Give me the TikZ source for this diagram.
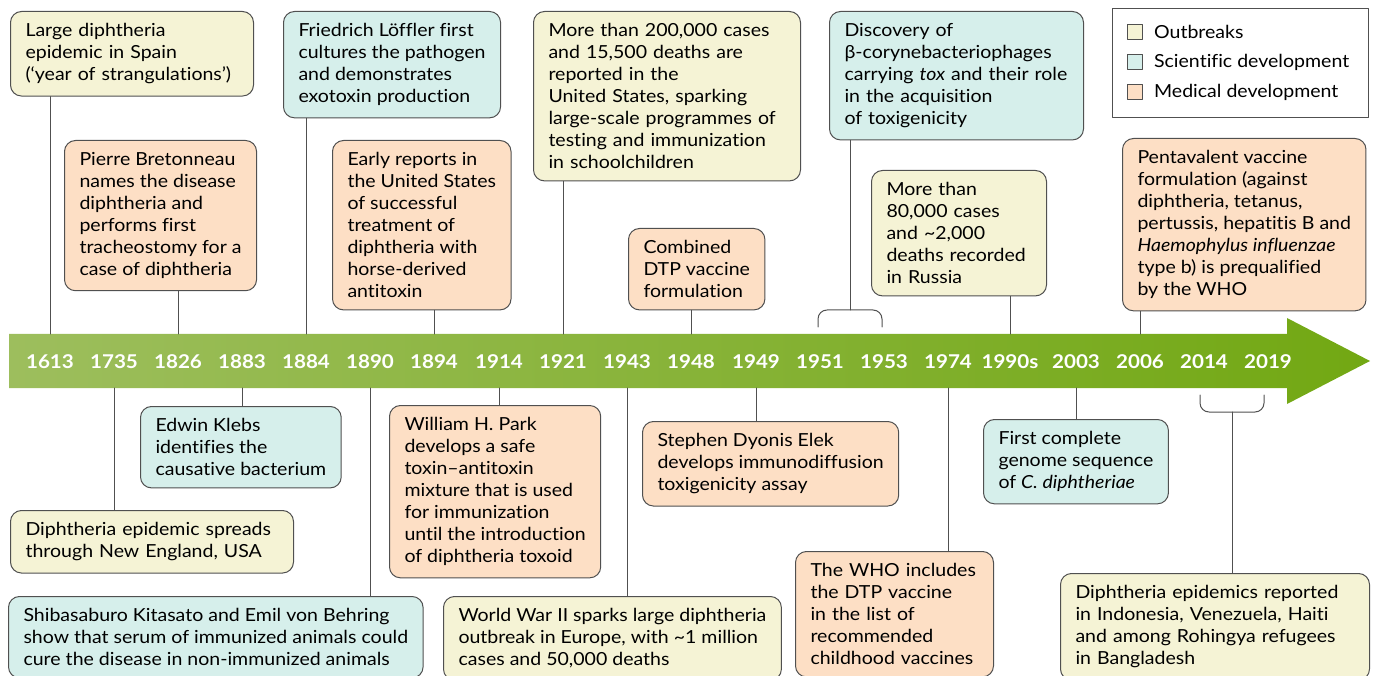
\documentclass[tikz,border=0pt]{standalone}
\usepackage{fontspec}
\setmainfont{Lato}[FakeStretch=1.085,Ligatures={TeX,NoCommon}]
\usetikzlibrary{positioning}

\definecolor{outbk}{HTML}{F5F3D5}
\definecolor{scidev}{HTML}{D6EFEB}
\definecolor{meddev}{HTML}{FDDFC5}
\definecolor{edge}{HTML}{505050}
\definecolor{barL}{HTML}{9DBE5D}
\definecolor{barR}{HTML}{72A813}

\tikzset{
  event/.style={draw=edge,line width=1pt,rounded corners=11pt,anchor=north west,
    align=left,inner xsep=15pt,inner ysep=12pt,font=\fontsize{18}{22}\selectfont},
  outbreak/.style={event,fill=outbk},
  science/.style={event,fill=scidev},
  medical/.style={event,fill=meddev},
  stem/.style={draw=edge,line width=1pt},
  year/.style={text=white,font=\fontsize{19}{22}\selectfont\bfseries},
  swatch/.style={draw=edge,line width=0.8pt,minimum size=15pt,inner sep=0pt},
}

\begin{document}
\begin{tikzpicture}[x=1pt,y=-1pt,line cap=round,line join=round]
  \useasboundingbox (0,0) rectangle (1374,676);
  \clip (0,0) rectangle (1374,676);

  % time arrow
  \shade[left color=barL,right color=barR] (9,334) -- (1287,334) -- (1287,318) -- (1370,361)
    -- (1287,404) -- (1287,388) -- (9,388) -- cycle;
  \coordinate (bartop) at (0,334);
  \coordinate (barbot) at (0,388);
  \foreach \yr/\x in {1613/50,1735/114,1826/178,1883/242,1884/306,1890/370,1894/434,
      1914/499,1921/563,1943/627,1948/691,1949/756,1951/820,1953/884,1974/948,
      1990s/1010,2003/1076,2006/1140,2014/1204,2019/1268}
    \node[year] (y\yr) at (\x,362) {\yr};

  % events above the arrow
  \node[outbreak,text width=213pt] (spain) at (10,11) {Large diphtheria\\epidemic in Spain\\(‘year of strangulations’)};
  \node[medical] (bretonneau) at (64,140) {Pierre Bretonneau\\names the disease\\diphtheria and\\performs first\\tracheostomy for a\\case of diphtheria};
  \node[science] (loeffler) at (283,11) {Friedrich Löffler first\\cultures the pathogen\\and demonstrates\\exotoxin production};
  \node[medical] (antitoxin) at (332,140) {Early reports in\\the United States\\of successful\\treatment of\\diphtheria with\\horse-derived\\antitoxin};
  \node[outbreak,text width=237pt] (usa) at (533,11) {More than 200,000 cases\\and 15,500 deaths are\\reported in the\\United States, sparking\\large-scale programmes of\\testing and immunization\\in schoolchildren};
  \node[medical] (dtp) at (628,228) {Combined\\DTP vaccine\\formulation};
  \node[science,text width=224pt] (phage) at (829,11) {Discovery of\\β-corynebacteriophages\\carrying \textit{tox} and their role\\in the acquisition\\of toxigenicity};
  \node[outbreak,text width=145pt] (russia) at (871,170) {More than\\80,000 cases\\and \textasciitilde2,000\\deaths recorded\\in Russia};
  \node[medical] (penta) at (1122,138) {Pentavalent vaccine\\formulation (against\\diphtheria, tetanus,\\pertussis, hepatitis B and\\\textit{Haemophylus influenzae}\\type b) is prequalified\\by the WHO};

  % events below the arrow
  \node[outbreak,text width=253pt] (england) at (10,510) {Diphtheria epidemic spreads\\through New England, USA};
  \node[science] (klebs) at (140,406) {Edwin Klebs\\identifies the\\causative bacterium};
  \node[science] (behring) at (8,596) {Shibasaburo Kitasato and Emil von Behring\\show that serum of immunized animals could\\cure the disease in non-immunized animals};
  \node[medical] (park) at (389,405) {William H. Park\\develops a safe\\toxin–antitoxin\\mixture that is used\\for immunization\\until the introduction\\of diphtheria toxoid};
  \node[outbreak] (ww2) at (443,596) {World War II sparks large diphtheria\\outbreak in Europe, with \textasciitilde1 million\\cases and 50,000 deaths};
  \node[medical] (elek) at (642,421) {Stephen Dyonis Elek\\develops immunodiffusion\\toxigenicity assay};
  \node[medical,text width=168pt] (who) at (795,551) {The WHO includes\\the DTP vaccine\\in the list of\\recommended\\childhood vaccines};
  \node[science] (genome) at (983,419) {First complete\\genome sequence\\of \textit{C. diphtheriae}};
  \node[outbreak,text width=279pt] (epid) at (1060,573) {Diphtheria epidemics reported\\in Indonesia, Venezuela, Haiti\\and among Rohingya refugees\\in Bangladesh};

  % stems to the arrow
  \foreach \ev/\yr in {spain/1613,bretonneau/1826,loeffler/1884,antitoxin/1894,usa/1921,
      dtp/1948,russia/1990s,penta/2006}
    \draw[stem] (\ev.south -| y\yr) -- (bartop -| y\yr);
  \foreach \ev/\yr in {england/1735,klebs/1883,behring/1890,park/1914,ww2/1943,
      elek/1949,who/1974,genome/2003}
    \draw[stem] (\ev.north -| y\yr) -- (barbot -| y\yr);

  % brackets for year ranges
  \coordinate (brA) at (850,310);
  \coordinate (brB) at (1232,412);
  \draw[stem,rounded corners=9pt] (818,327) -- (818,310) -- (882,310) -- (882,327);
  \draw[stem] (phage.south -| brA) -- (brA);
  \draw[stem,rounded corners=9pt] (1200,395) -- (1200,412) -- (1264,412) -- (1264,395);
  \draw[stem] (brB) -- (epid.north -| brB);

  % legend
  \node[draw=edge,line width=1pt,minimum width=256pt,minimum height=109pt,anchor=north west]
    (legend) at (1112,8) {};
  \foreach \c/\t [count=\i] in {outbk/Outbreaks,scidev/Scientific development,meddev/Medical development}{
    \node[swatch,fill=\c] (sw\i) at (1135,{32+30*(\i-1)}) {};
    \node[right=11pt of sw\i,inner sep=0pt,font=\fontsize{18}{22}\selectfont] (lg\i) {\t};
  }
\end{tikzpicture}
\end{document}
